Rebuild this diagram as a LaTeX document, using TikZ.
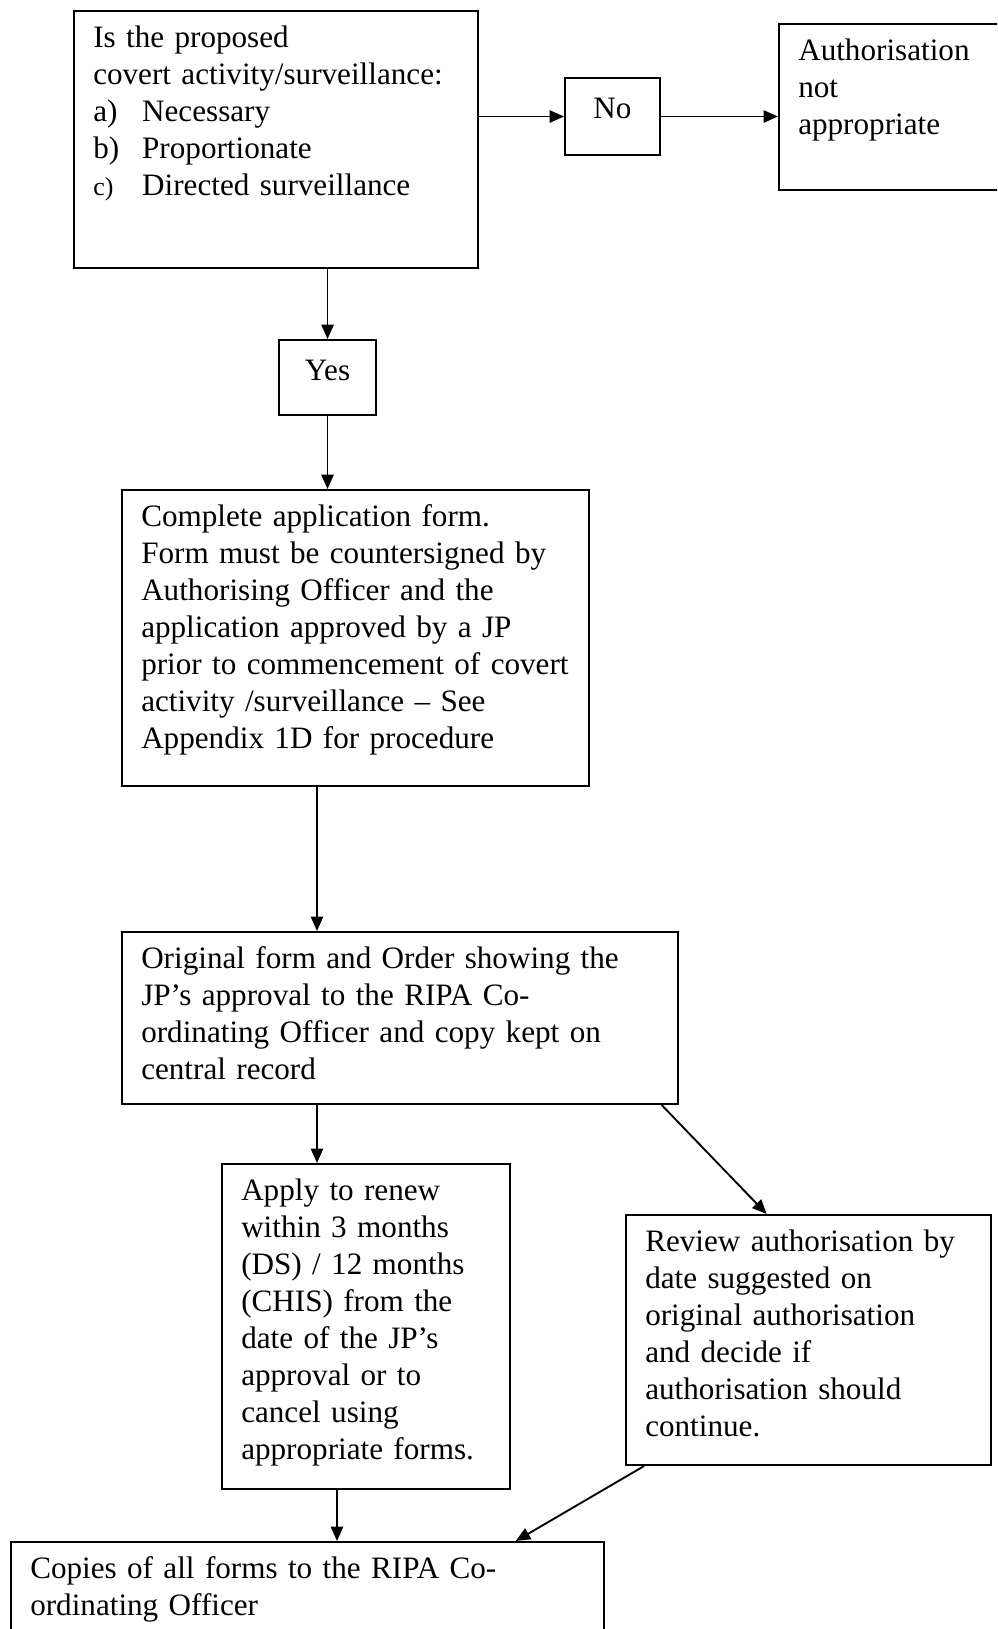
\documentclass[tikz,border=0pt]{standalone}
\usepackage{fontspec}
\setmainfont{Liberation Serif}
\usetikzlibrary{arrows.meta, calc}

\newcommand{\itemlbl}[1]{\makebox[18.3pt][l]{#1}}

\begin{document}
\begin{tikzpicture}[
        x=0.374pt, y=-0.374pt,
        box/.style={rectangle, draw, line width=0.75pt, anchor=north west,
                    align=left, inner xsep=7.2pt, inner ysep=0pt,
                    text height=13.8pt, font=\fontsize{11.65}{13.8}\selectfont},
        answer/.style={rectangle, draw, line width=0.75pt, anchor=north west,
                    align=center, inner sep=0pt, text height=15pt,
                    font=\fontsize{11.65}{13.8}\selectfont},
        arrow/.style={-{Triangle[length=5.4pt, width=4.6pt]}, line width=0.7pt}
    ]
    \useasboundingbox (0,0) rectangle (997,1629);
    \clip (0,0) rectangle (997,1629);

    %% QUESTION AND ANSWERS
    \node[box, text width=136.7pt, text depth=82.3pt] (q1) at (73,10)
          {Is the proposed\\
           covert activity/surveillance:\\
           \itemlbl{a)}Necessary\\
           \itemlbl{b)}Proportionate\\
           \itemlbl{{\fontsize{9.7}{12}\selectfont c)}}Directed surveillance};
    \node[answer, minimum width=35.5pt, text depth=13.8pt] (no) at (564,77) {No};
    \node[box, text width=72.4pt, text depth=48.3pt] (notapp) at (778,23)
          {Authorisation\\ not\\ appropriate};
    \node[answer, minimum width=36.3pt, text depth=13.1pt] (yes) at (278,339) {Yes};

    \draw[arrow] (q1.east |- no.west) -- (no.west);
    \draw[arrow] (no.east) -- (no.east -| notapp.west);
    \draw[arrow] (q1.south -| yes.north) -- (yes.north);

    %% APPLICATION
    \node[box, text width=160.3pt, text depth=96.9pt] (form) at (121,489)
          {Complete application form.\\
           Form must be countersigned by\\
           Authorising Officer and the\\
           application approved by a JP\\
           prior to commencement of covert\\
           activity /surveillance -- See\\
           Appendix 1D for procedure};
    \draw[arrow] (yes.south) -- (yes.south |- form.north);

    \node[box, text width=193.5pt, text depth=50.5pt] (record) at (121,931)
          {Original form and Order showing the\\
           JP’s approval to the RIPA Co-\\
           ordinating Officer and copy kept on\\
           central record};
    \coordinate (spine) at (317,0);
    \draw[arrow] (form.south -| spine) -- (record.north -| spine);

    %% RENEWAL AND REVIEW
    \node[box, text width=93.3pt, text depth=107.8pt] (renew) at (221,1163)
          {Apply to renew\\
           within 3 months\\
           (DS) / 12 months\\
           (CHIS) from the\\
           date of the JP’s\\
           approval or to\\
           cancel using\\
           appropriate forms.};
    \node[box, text width=122.1pt, text depth=79.7pt] (review) at (625,1214)
          {Review authorisation by\\
           date suggested on\\
           original authorisation\\
           and decide if\\
           authorisation should\\
           continue.};
    \draw[arrow] (record.south -| spine) -- (renew.north -| spine);
    \draw[arrow] ($(record.south west)!0.969!(record.south east)$)
              -- ($(review.north west)!0.386!(review.north east)$);

    \node[box, text width=207.4pt, text depth=30.7pt] (copies) at (10,1541)
          {Copies of all forms to the RIPA Co-\\
           ordinating Officer};
    \coordinate (feed) at (337,0);
    \draw[arrow] (renew.south -| feed) -- (copies.north -| feed);
    \draw[arrow] ($(review.south west)!0.052!(review.south east)$)
              -- ($(copies.north west)!0.85!(copies.north east)$);

\end{tikzpicture}
\end{document}
